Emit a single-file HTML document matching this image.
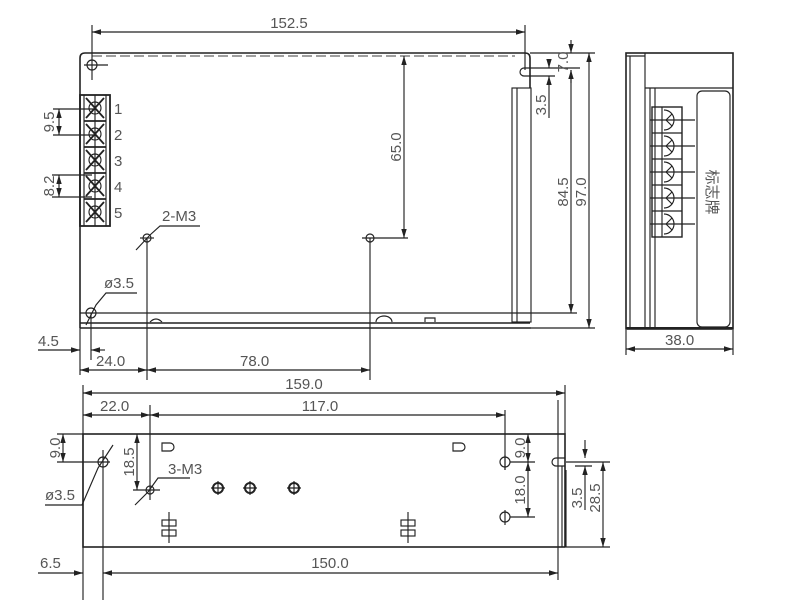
<!DOCTYPE html>
<html><head><meta charset="utf-8"><style>
html,body{margin:0;padding:0;background:#fff;width:800px;height:600px;overflow:hidden}
svg text{font-family:"Liberation Sans","Noto Sans CJK SC",sans-serif;fill:#555;font-size:15px}
</style></head><body>
<svg width="800" height="600" viewBox="0 0 800 600" xmlns="http://www.w3.org/2000/svg">
<defs>
<marker id="a" viewBox="0 0 10 6" refX="10" refY="3" markerWidth="8" markerHeight="5" orient="auto-start-reverse"><path d="M0,0L10,3L0,6z" fill="#222"/></marker>
</defs>
<g stroke="#222" stroke-width="1.15" fill="none">
<!-- TOP VIEW -->
<path d="M80,328V58Q80,53 85,53H525Q530,53 530,58V88" stroke-width="1.6"/>
<line x1="92" y1="56" x2="515" y2="56" stroke-dasharray="10,4" stroke="#666"/>
<path d="M80,323H530M80,328H531" stroke-width="1.4"/>
<line x1="80" y1="313" x2="577" y2="313"/>
<rect x="512" y="88" width="19" height="234"/>
<line x1="517" y1="88" x2="517" y2="322"/>
<path d="M531,68H524A4,4 0 0 0 524,76H531" />
<path d="M150,322q6,-6 12,0M376,322a8,6 0 0 1 16,0M425,322v-4h10v4"/>
<line x1="92" y1="32" x2="525" y2="32" marker-start="url(#a)" marker-end="url(#a)"/>
<line x1="92" y1="25" x2="92" y2="80"/><line x1="525" y1="25" x2="525" y2="70"/>
<circle cx="92" cy="65" r="5"/><line x1="84" y1="65" x2="108" y2="65"/>
<rect x="80" y="95" width="30" height="131" stroke-width="1.8"/>
<line x1="84" y1="95" x2="84" y2="226"/><line x1="106" y1="95" x2="106" y2="226"/>
<line x1="95" y1="95" x2="95" y2="226"/>
<g stroke-width="1.8">
<path d="M84,121H106M84,147H106M84,173H106M84,199H106"/>
<path d="M86,98L104,118M104,98L86,118M86,124L104,144M104,124L86,144M86,150L104,170M104,150L86,170M86,176L104,196M104,176L86,196M86,202L104,222M104,202L86,222"/>
</g>
<circle cx="95" cy="108" r="6"/><circle cx="95" cy="134" r="6"/><circle cx="95" cy="160" r="6"/><circle cx="95" cy="186" r="6"/><circle cx="95" cy="212" r="6"/>
<path d="M53,109H95M53,135H95M52,175H92M52,197H92"/>
<line x1="59" y1="109" x2="59" y2="135" marker-start="url(#a)" marker-end="url(#a)"/>
<line x1="59" y1="175" x2="59" y2="197" marker-start="url(#a)" marker-end="url(#a)"/>
<circle cx="147" cy="238" r="4"/><line x1="140" y1="238" x2="154" y2="238"/>
<path d="M136,250L150,235L160,226H200"/>
<circle cx="370" cy="238" r="4"/><line x1="362" y1="238" x2="408" y2="238"/>
<line x1="404" y1="56" x2="404" y2="238" marker-start="url(#a)" marker-end="url(#a)"/>
<circle cx="91" cy="313" r="5"/>
<path d="M86,325L96,305L106,293H137"/>
<line x1="80" y1="328" x2="80" y2="375"/>
<line x1="91" y1="313" x2="91" y2="360"/>
<line x1="147" y1="238" x2="147" y2="380"/>
<line x1="370" y1="238" x2="370" y2="380"/>
<line x1="38" y1="350" x2="80" y2="350" marker-end="url(#a)"/>
<line x1="105" y1="350" x2="91" y2="350" marker-end="url(#a)"/>
<line x1="80" y1="370" x2="147" y2="370" marker-start="url(#a)" marker-end="url(#a)"/>
<line x1="147" y1="370" x2="370" y2="370" marker-start="url(#a)" marker-end="url(#a)"/>
<path d="M530,53H595M531,328H595M531,68H580M531,76H555"/>
<line x1="571" y1="40" x2="571" y2="53" marker-end="url(#a)"/>
<line x1="571" y1="83" x2="571" y2="70" marker-end="url(#a)"/>
<line x1="549" y1="60" x2="549" y2="68" marker-end="url(#a)"/>
<line x1="549" y1="118" x2="549" y2="76" marker-end="url(#a)"/>
<line x1="571" y1="70" x2="571" y2="313" marker-end="url(#a)"/>
<line x1="589" y1="53" x2="589" y2="328" marker-start="url(#a)" marker-end="url(#a)"/>
<!-- SIDE VIEW -->
<rect x="626" y="53" width="107" height="276" stroke-width="1.6"/>
<line x1="630" y1="56" x2="630" y2="328"/><line x1="645" y1="53" x2="645" y2="328"/>
<line x1="626" y1="56" x2="645" y2="56"/>
<path d="M645,88H733M650,88V328M655,88V328"/>
<line x1="626" y1="328" x2="733" y2="328" stroke-width="2"/>
<rect x="697" y="91" width="33" height="236" rx="5"/>
<rect x="652" y="107" width="30" height="130" stroke-width="1.4"/>
<path d="M662,107V237M652,133H682M652,159H682M652,185H682M652,211H682"/>
<path d="M650,120H695M650,146H695M650,172H695M650,198H695M650,224H695"/>
<path d="M664,110a10,10 0 0 1 0,20M664,136a10,10 0 0 1 0,20M664,162a10,10 0 0 1 0,20M664,188a10,10 0 0 1 0,20M664,214a10,10 0 0 1 0,20"/>
<path d="M666,120l6,-6M666,120l6,6M666,146l6,-6M666,146l6,6M666,172l6,-6M666,172l6,6M666,198l6,-6M666,198l6,6M666,224l6,-6M666,224l6,6"/>
<path d="M626,330V355M733,330V355"/>
<line x1="626" y1="349" x2="733" y2="349" marker-start="url(#a)" marker-end="url(#a)"/>
<!-- BOTTOM VIEW -->
<rect x="83" y="434" width="482" height="113" stroke-width="1.6"/>
<path d="M562,466V547M566,470V547"/>
<path d="M565,458H556A4,4 0 0 0 556,466H565"/>
<path d="M83,385V600M103,450V600M150,405V500M505,410V470M565,385V434M558,400V580"/>
<line x1="83" y1="393" x2="565" y2="393" marker-start="url(#a)" marker-end="url(#a)"/>
<line x1="83" y1="415" x2="150" y2="415" marker-start="url(#a)" marker-end="url(#a)"/>
<line x1="150" y1="415" x2="505" y2="415" marker-start="url(#a)" marker-end="url(#a)"/>
<path d="M57,434H83M57,462H110M133,490H160"/>
<line x1="63" y1="434" x2="63" y2="462" marker-start="url(#a)" marker-end="url(#a)"/>
<line x1="137" y1="434" x2="137" y2="490" marker-start="url(#a)" marker-end="url(#a)"/>
<circle cx="103" cy="462" r="5"/>
<path d="M113,445L98,468L82,505H45"/>
<circle cx="150" cy="490" r="4"/>
<path d="M135,505L148,492L158,478H190"/>
<circle cx="505" cy="462" r="5"/><circle cx="505" cy="517" r="5"/>
<path d="M505,455V470M505,510V525M510,462H535M510,517H535"/>
<line x1="528" y1="434" x2="528" y2="462" marker-start="url(#a)" marker-end="url(#a)"/>
<line x1="528" y1="462" x2="528" y2="517" marker-start="url(#a)" marker-end="url(#a)"/>
<path d="M566,462H610M566,547H610M575,466H592"/>
<line x1="585" y1="440" x2="585" y2="458" marker-end="url(#a)"/>
<line x1="585" y1="510" x2="585" y2="466" marker-end="url(#a)"/>
<line x1="603" y1="462" x2="603" y2="547" marker-start="url(#a)" marker-end="url(#a)"/>
<line x1="38" y1="573" x2="83" y2="573" marker-end="url(#a)"/>
<line x1="103" y1="573" x2="558" y2="573" marker-start="url(#a)" marker-end="url(#a)"/>
<g stroke-width="2"><circle cx="218" cy="488" r="5"/><circle cx="250" cy="488" r="5"/><circle cx="294" cy="488" r="5"/></g>
<path d="M211,488H225M218,481V495M243,488H257M250,481V495M287,488H301M294,481V495"/>
<path d="M162,443h8a4,4 0 0 1 0,8h-8z M453,443h8a4,4 0 0 1 0,8h-8z"/>
<rect x="162" y="520" width="14" height="6"/><rect x="162" y="530" width="14" height="6"/>
<rect x="401" y="520" width="14" height="6"/><rect x="401" y="530" width="14" height="6"/>
<path d="M169,512V543M408,512V543"/>
</g>
<g>
<text x="289" y="28" text-anchor="middle">152.5</text>
<text x="114" y="114" font-family="Liberation Serif" fill="#222">1</text>
<text x="114" y="140" font-family="Liberation Serif" fill="#222">2</text>
<text x="114" y="166" font-family="Liberation Serif" fill="#222">3</text>
<text x="114" y="192" font-family="Liberation Serif" fill="#222">4</text>
<text x="114" y="218" font-family="Liberation Serif" fill="#222">5</text>
<text transform="translate(54,122) rotate(-90)" text-anchor="middle">9.5</text>
<text transform="translate(54,186) rotate(-90)" text-anchor="middle">8.2</text>
<text x="162" y="221">2-M3</text>
<text transform="translate(401,147) rotate(-90)" text-anchor="middle">65.0</text>
<text x="104" y="288">ø3.5</text>
<text x="38" y="346">4.5</text>
<text x="96" y="366">24.0</text>
<text x="240" y="366">78.0</text>
<text transform="translate(568,62) rotate(-90)" text-anchor="middle">7.0</text>
<text transform="translate(546,105) rotate(-90)" text-anchor="middle">3.5</text>
<text transform="translate(568,192) rotate(-90)" text-anchor="middle">84.5</text>
<text transform="translate(586,192) rotate(-90)" text-anchor="middle">97.0</text>
<text transform="translate(707,192) rotate(90)" text-anchor="middle" fill="#333" font-size="16">标志牌</text>
<text x="665" y="345">38.0</text>
<text x="304" y="389" text-anchor="middle">159.0</text>
<text x="100" y="411">22.0</text>
<text x="320" y="411" text-anchor="middle">117.0</text>
<text transform="translate(60,448) rotate(-90)" text-anchor="middle">9.0</text>
<text transform="translate(134,462) rotate(-90)" text-anchor="middle">18.5</text>
<text x="168" y="474">3-M3</text>
<text x="45" y="500">ø3.5</text>
<text transform="translate(525,448) rotate(-90)" text-anchor="middle">9.0</text>
<text transform="translate(525,490) rotate(-90)" text-anchor="middle">18.0</text>
<text transform="translate(582,498) rotate(-90)" text-anchor="middle">3.5</text>
<text transform="translate(600,498) rotate(-90)" text-anchor="middle">28.5</text>
<text x="40" y="568">6.5</text>
<text x="330" y="568" text-anchor="middle">150.0</text>
</g>
</svg>
</body></html>
